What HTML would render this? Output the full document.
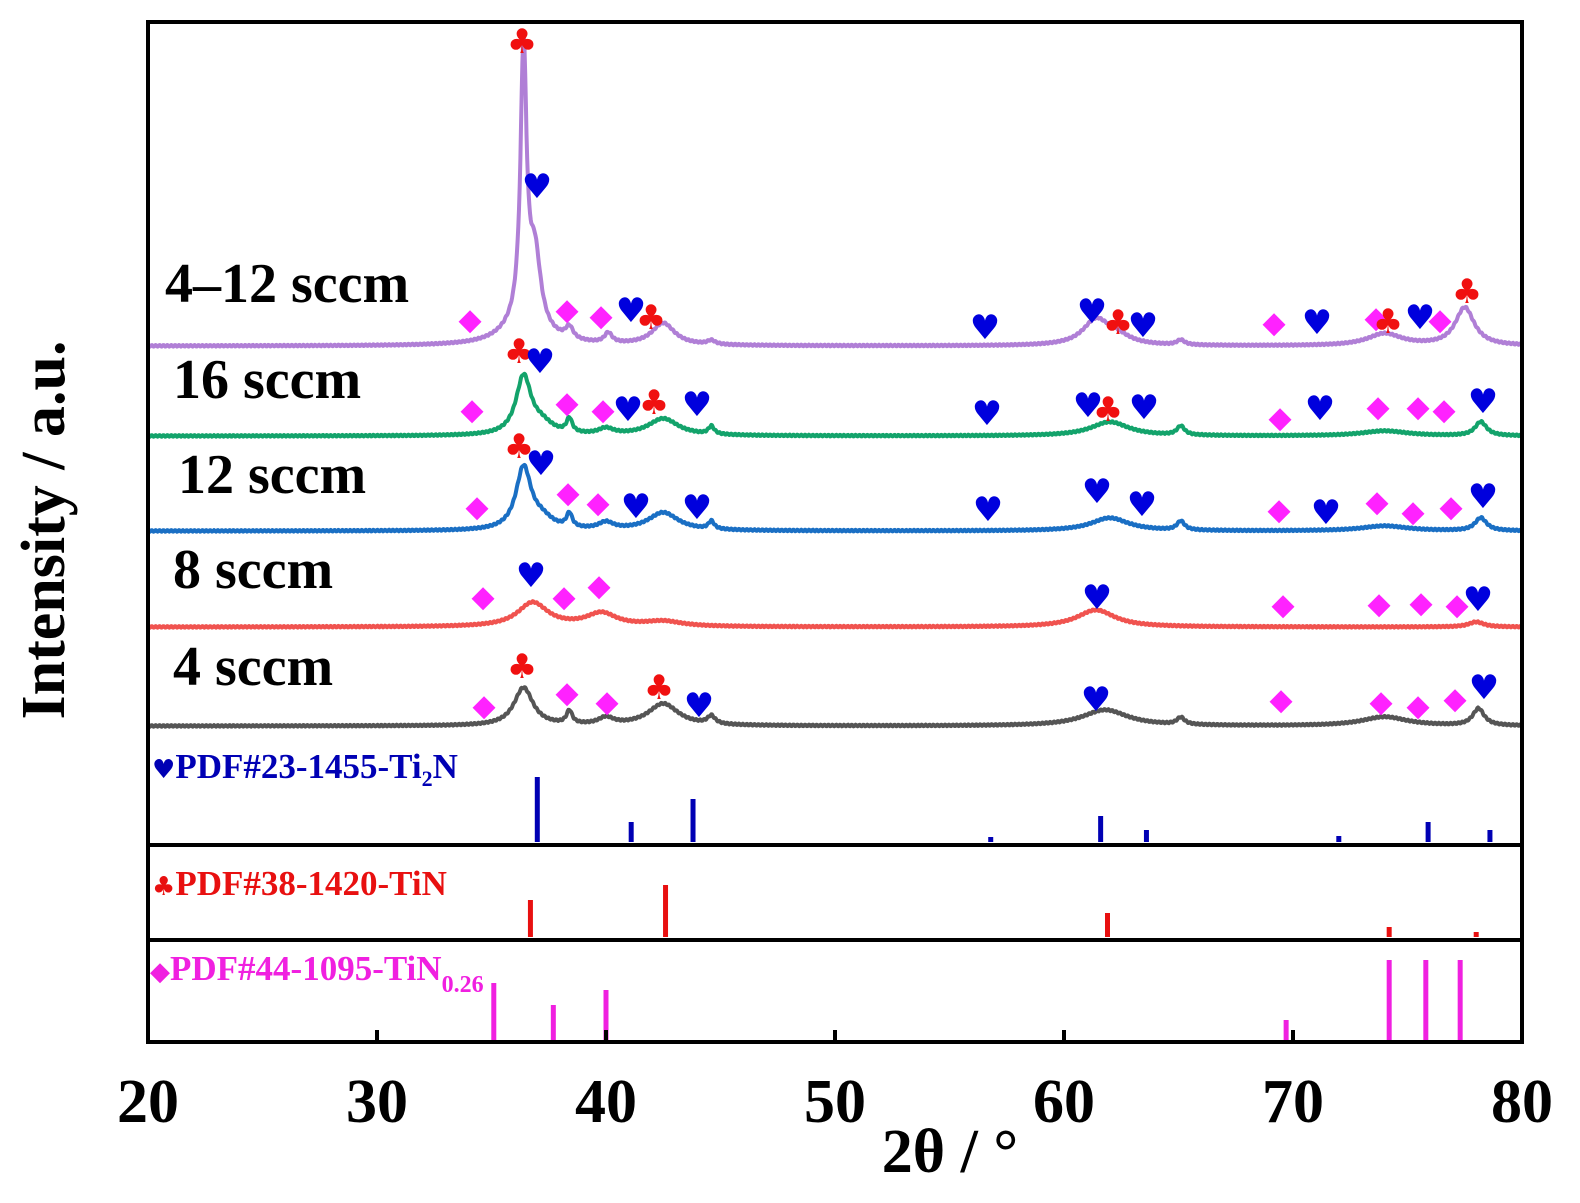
<!DOCTYPE html>
<html><head><meta charset="utf-8"><style>
html,body{margin:0;padding:0;background:#fff;}
svg{display:block;font-family:"Liberation Serif",serif;font-weight:bold;}
</style></head><body>
<svg id="s" width="1580" height="1203" viewBox="0 0 1580 1203" xmlns="http://www.w3.org/2000/svg">
<rect x="0" y="0" width="1580" height="1203" fill="#fff"/>
<g id="curves"></g>
<g id="refs"></g>
<g id="marks" font-family="DejaVu Sans,sans-serif" font-weight="normal" text-anchor="middle" dominant-baseline="central"></g>
<rect x="148" y="22" width="1374" height="1020" fill="none" stroke="#000" stroke-width="4"/>
<line x1="148" y1="845" x2="1522" y2="845" stroke="#000" stroke-width="4"/>
<line x1="148" y1="940" x2="1522" y2="940" stroke="#000" stroke-width="4"/>
<g id="ticks" stroke="#000" stroke-width="4"></g>
<g font-size="62" text-anchor="middle">
<text x="148" y="1122">20</text><text x="377" y="1122">30</text><text x="606" y="1122">40</text>
<text x="835" y="1122">50</text><text x="1064" y="1122">60</text><text x="1293" y="1122">70</text><text x="1522" y="1122">80</text>
<text x="950" y="1172">2θ / °</text>
</g>
<text transform="translate(64,530) rotate(-90)" font-size="62" text-anchor="middle">Intensity / a.u.</text>
<g font-size="56">
<text x="165" y="302">4–12 sccm</text>
<text x="173" y="398">16 sccm</text>
<text x="178" y="493">12 sccm</text>
<text x="173" y="588">8 sccm</text>
<text x="173" y="685">4 sccm</text>
</g>
<g font-size="35">
<text x="152" y="778" fill="#0000b4"><tspan font-family="DejaVu Sans" font-size="26">♥</tspan>PDF#23-1455-Ti<tspan font-size="22" dy="8">2</tspan><tspan dy="-8">N</tspan></text>
<text x="152" y="895" fill="#e81010"><tspan font-family="DejaVu Sans" font-size="26">♣</tspan>PDF#38-1420-TiN</text>
<text x="150" y="980" fill="#f020e0"><tspan font-family="DejaVu Sans" font-size="26">◆</tspan>PDF#44-1095-TiN<tspan font-size="24" dy="12">0.26</tspan></text>
</g>
</svg>
<script>
const NS="http://www.w3.org/2000/svg";
const X=t=>148+(t-20)*22.9;
function mk(tag,attrs,parent){const e=document.createElementNS(NS,tag);for(const k in attrs)e.setAttribute(k,attrs[k]);document.getElementById(parent).appendChild(e);return e;}
const series=[
 {c:"#b07fd6",b:346,p:[[36.4,270,0.16],[36.9,70,0.3],[36.4,22,1.0],[38.4,12,0.2],[40.1,10,0.2],[42.5,22,0.6],[44.6,4,0.2],[61.4,25,0.7],[62.3,8,0.7],[65.1,5,0.2],[74,12,0.9],[77.5,38,0.5]]},
 {c:"#13a36b",b:436,p:[[36.4,58,0.4],[37.2,10,0.6],[38.4,14,0.15],[40,6,0.4],[42.5,17,0.8],[44.6,8,0.15],[62,14,1.0],[65.1,9,0.2],[74,5,1.2],[78.2,14,0.3]]},
 {c:"#1a6fc4",b:531,p:[[36.4,62,0.4],[37.2,10,0.6],[38.4,14,0.15],[40,7,0.4],[42.5,18,0.8],[44.6,8,0.15],[62,13,1.0],[65.1,9,0.2],[74,5,1.2],[78.2,13,0.3]]},
 {c:"#f0534f",b:627,p:[[36.8,24,0.8],[39.8,13,0.8],[42.5,5,1],[61.4,17,1.0],[78,5,0.4]]},
 {c:"#555555",b:726,p:[[36.4,38,0.5],[38.4,13,0.15],[40,7,0.4],[42.5,22,0.8],[44.6,8,0.2],[61.8,16,1.2],[65.1,7,0.2],[74,9,1.2],[78.1,17,0.3]]}
];
series.forEach(s=>{let d="";for(let t=20;t<=80.0001;t+=0.03){let y=s.b;s.p.forEach(([c,h,w])=>{const u=(t-c)/w;y-=h/(1+u*u);});y+=Math.sin(t*37)*0.8;d+=(d?"L":"M")+X(t).toFixed(1)+" "+y.toFixed(1);}mk("path",{d:d,fill:"none",stroke:s.c,"stroke-width":4,"stroke-linejoin":"round"},"curves");});
const refs=[["#0000b4",842,[[37,777],[41.1,822],[43.8,799],[56.8,837],[61.6,816],[63.6,830],[72,836],[75.9,822],[78.6,830]]],
 ["#e81010",937,[[36.7,900],[42.6,885],[61.9,913],[74.2,927],[78,932]]],
 ["#f020e0",1040,[[35.1,983],[37.7,1005],[40,990],[69.7,1020],[74.2,960],[75.8,960],[77.3,960]]]];
refs.forEach(([c,b,l])=>l.forEach(([t,y])=>mk("line",{x1:X(t),x2:X(t),y1:b,y2:y,stroke:c,"stroke-width":5},"refs")));
for(let t=20;t<=80;t+=10){mk("line",{x1:X(t),x2:X(t),y1:1042,y2:1030},"ticks");}
const M={h:["♥","#0000dd",34],c:["♣","#f01010",34],d:["◆","#ff22ff",30]};
const marks=`d470,320 c522,42 h537,187 d567,310 d601,316 h631,311 c651,318 h985,328 h1092,312 c1118,323 h1143,326 d1274,323 h1317,323 d1376,318 c1388,322 h1420,318 d1440,320 c1467,292
d472,410 c519,352 h540,362 d567,403 d603,410 h628,410 c654,403 h697,405 h987,414 h1088,406 c1108,410 h1144,408 d1280,418 h1320,409 d1378,407 d1418,407 d1444,410 h1483,402
d477,507 c519,447 h541,464 d568,493 d598,503 h636,507 h697,508 h988,510 h1097,492 h1142,505 d1279,510 h1326,513 d1377,502 d1413,512 d1451,507 h1483,497
d483,597 h531,576 d564,597 d599,586 h1097,598 d1283,605 d1379,604 d1421,603 d1457,605 h1478,600
d484,706 c522,667 d567,693 d607,702 c659,688 h699,706 h1096,700 d1281,700 d1381,702 d1418,706 d1455,699 h1484,688`.split(/\s+/);
marks.forEach(m=>{const k=M[m[0]];const [x,y]=m.slice(1).split(",").map(Number);const e=mk("text",{x:x,y:y,fill:k[1],"font-size":k[2]},"marks");e.textContent=k[0];});
</script>
</body></html>
